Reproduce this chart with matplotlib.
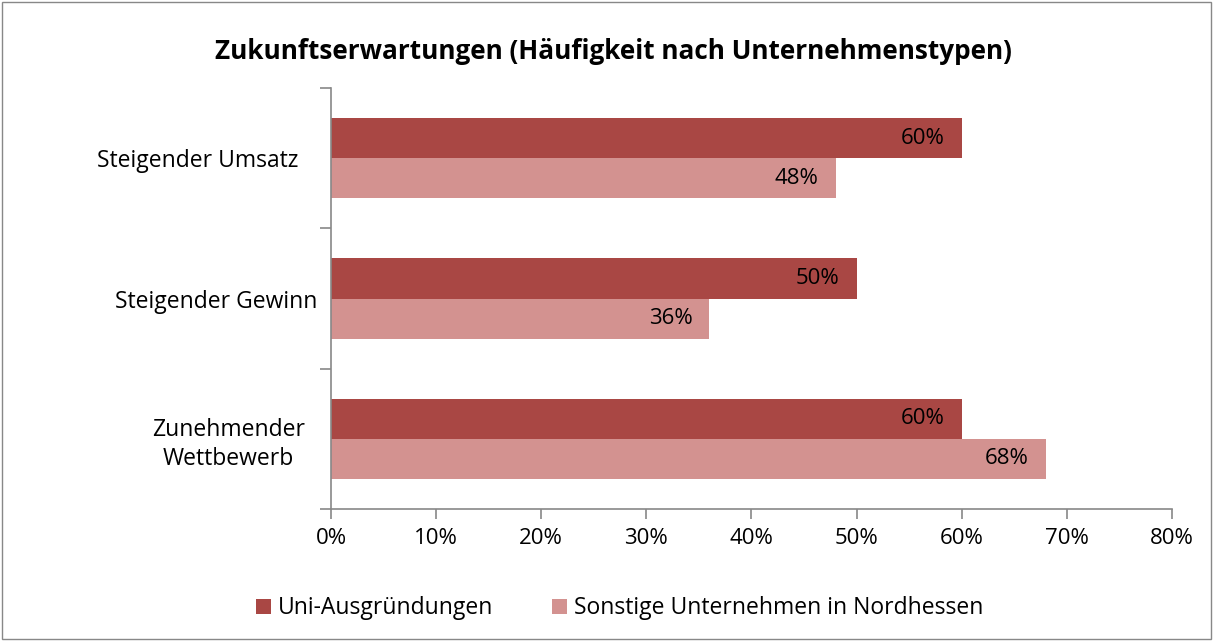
import matplotlib.pyplot as plt
import matplotlib.transforms as mtransforms
import numpy as np

categories = ['Steigender Umsatz', 'Steigender Gewinn', 'Zunehmender\nWettbewerb']
uni = [60, 50, 60]
sonstige = [48, 36, 68]
series_names = ['Uni-Ausgründungen', 'Sonstige Unternehmen in Nordhessen']
xticks = [0, 10, 20, 30, 40, 50, 60, 70, 80]

plt.rcParams['font.family'] = ['Open Sans', 'DejaVu Sans']

fig = plt.figure(figsize=(12.15, 6.41), dpi=100)
ax = fig.add_axes([0.2724, 0.2059, 0.6922, 0.6568])

dark = '#A94744'
light = '#D39290'
h = 0.286
y = np.arange(len(categories))[::-1]

b1 = ax.barh(y + h / 2, uni, height=h, color=dark, label=series_names[0])
b2 = ax.barh(y - h / 2, sonstige, height=h, color=light, label=series_names[1])

for bars, vals in ((b1, uni), (b2, sonstige)):
    for bar, v in zip(bars, vals):
        ax.text(v - 1.6, bar.get_y() + bar.get_height() / 2, f'{v}%',
                ha='right', va='center', fontsize=16, color='black')

ax.set_xlim(0, 80)
ax.set_ylim(-0.5, len(categories) - 0.5)
ax.set_xticks(xticks)
ax.set_xticklabels([f'{t}%' for t in xticks], fontsize=16)
ax.set_yticks(y)
ax.set_yticklabels(categories, fontsize=16.5, ha='center', multialignment='center',
                   linespacing=1.3)
ax.tick_params(axis='y', length=0, pad=83)
# shift labels a little, like the original layout
for lab, dx in zip(ax.get_yticklabels(), [-0.18, 0.0, 0.13]):
    lab.set_transform(lab.get_transform() +
                      mtransforms.ScaledTranslation(dx, 0, fig.dpi_scale_trans))
ax.set_yticks(np.arange(-0.5, len(categories)), minor=True)
ax.tick_params(axis='y', which='minor', length=8, color='#888888', width=1.2)
ax.tick_params(axis='x', length=7, color='#888888', width=1.2, pad=7)

for s in ('top', 'right'):
    ax.spines[s].set_visible(False)
for s in ('left', 'bottom'):
    ax.spines[s].set_color('#888888')
    ax.spines[s].set_linewidth(1.2)

fig.text(0.505, 0.919, 'Zukunftserwartungen (Häufigkeit nach Unternehmenstypen)',
         ha='center', va='center', fontsize=18.8, fontweight='bold')

fig.legend(handles=[b1, b2], loc='center', bbox_to_anchor=(0.51, 0.051), ncol=2,
           frameon=False, fontsize=16.5, handlelength=0.65, handleheight=0.65,
           handletextpad=0.3, columnspacing=2.6)

fig.patches.append(plt.Rectangle((0.002, 0.003), 0.995, 0.994, transform=fig.transFigure,
                                 fill=False, edgecolor='#888888', linewidth=1))

fig.savefig('out.png', dpi=100)
